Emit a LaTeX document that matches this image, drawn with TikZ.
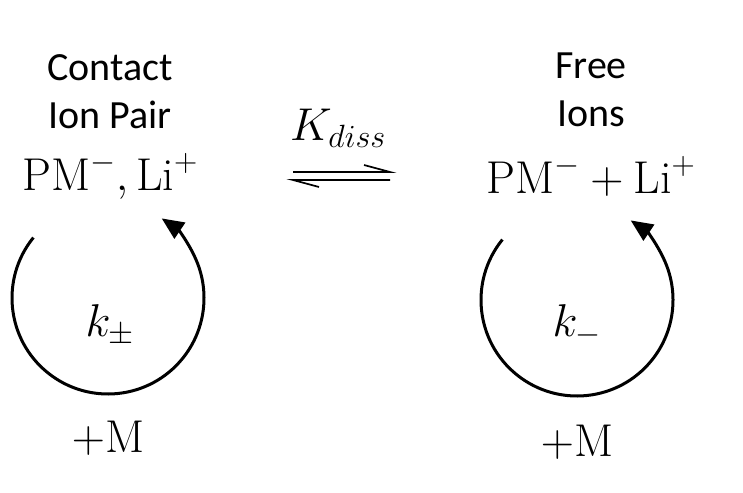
\documentclass[tikz,border=0pt]{standalone}
\usepackage{fix-cm}
\usepackage{fontspec}
\setsansfont{Carlito}
\usetikzlibrary{arrows.meta}
\begin{document}
\begin{tikzpicture}[x=1pt,y=-1pt,
  lbl/.style={font=\sffamily\fontsize{40}{48}\selectfont,align=center},
  chem/.style={font=\fontsize{46}{50}\selectfont},
  cyc/.style={line width=3pt,-{Triangle[length=22pt,width=19pt]}}]
\useasboundingbox (0,0) rectangle (743,492);
\node[lbl] (cl) at (110,92) {Contact\\Ion Pair};
\node[lbl] (fl) at (591,90) {Free\\Ions};
\node[chem] (cp) at (110,176) {$\mathrm{PM}^{-},\mathrm{Li}^{+}$};
\node[chem] (fp) at (591,176) {$\mathrm{PM}^{-}+\mathrm{Li}^{+}$};
\node[chem] (kd) at (338,128) {$K_{diss}$};
\node[chem] (k1) at (110,325) {$k_{\pm}$};
\node[chem] (k2) at (577,325) {$k_{-}$};
\node[chem] (m1) at (108,438) {$+\mathrm{M}$};
\node[chem] (m2) at (577,442) {$+\mathrm{M}$};
\coordinate (a1) at (293,172); \coordinate (a2) at (390,172);
\coordinate (b1) at (293,180); \coordinate (b2) at (390,180);
\draw[line width=1.7pt] (a1) -- (a2) -- ++(-26,-7);
\draw[line width=1.7pt] (b2) -- (b1) -- ++(26,7);
\draw[cyc] (108,298) ++(-141:96) arc[start angle=-141,end angle=-416,radius=96];
\draw[cyc] (577,300) ++(-141:96) arc[start angle=-141,end angle=-416,radius=96];
\end{tikzpicture}
\end{document}
